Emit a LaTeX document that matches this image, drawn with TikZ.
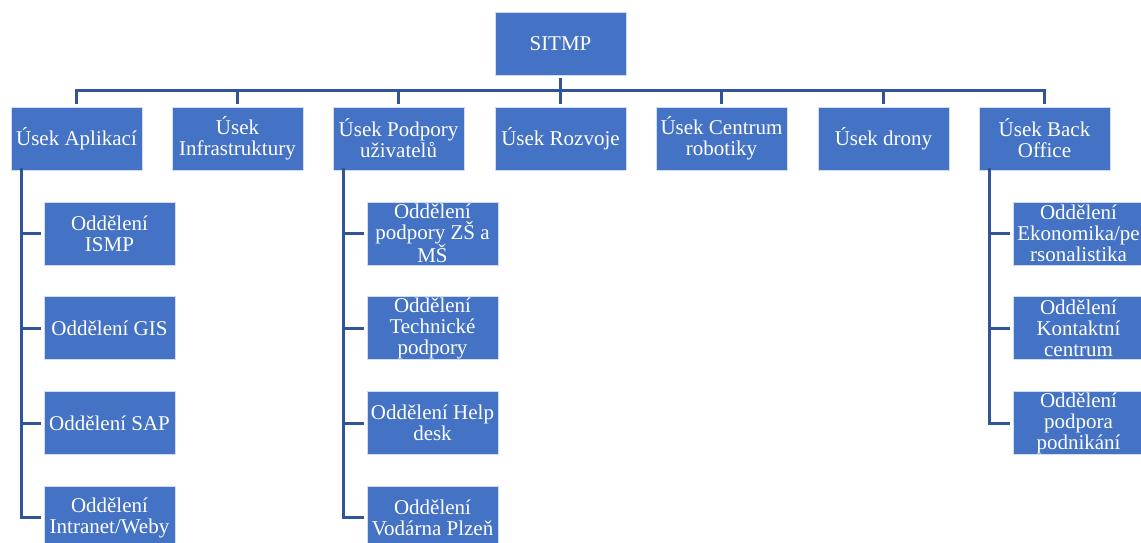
\documentclass[tikz,border=0pt]{standalone}
\usepackage{fontspec}
\setmainfont{Liberation Serif}
\definecolor{boxblue}{HTML}{4472C4}
\definecolor{lineblue}{HTML}{2F5597}
\begin{document}
\begin{tikzpicture}[x=1pt,y=-1pt,
  box/.style={rectangle,fill=boxblue,draw=white!75!boxblue,line width=0.8pt,
    minimum width=131pt,minimum height=63pt,inner sep=0pt,align=center,
    text=white,font=\fontsize{21}{21}\selectfont},
  conn/.style={draw=lineblue,line width=3pt}]
\useasboundingbox (0,0) rectangle (1141,543);
\clip (0,0) rectangle (1141,543);
% top
\node[box] (sitmp) at (560.5,44) {SITMP};
% sections
\node[box] (a1) at (76.5,138.5) {Úsek Aplikací};
\node[box] (a2) at (237.5,138.5) {Úsek\\Infrastruktury};
\node[box] (a3) at (398.5,138.5) {Úsek Podpory\\uživatelů};
\node[box] (a4) at (560.5,138.5) {Úsek Rozvoje};
\node[box] (a5) at (721.5,138.5) {Úsek Centrum\\robotiky};
\node[box] (a6) at (883.5,138.5) {Úsek drony};
\node[box] (a7) at (1044.5,138.5) {Úsek Back\\Office};
% departments
\node[box] (b1) at (109.5,233.5) {Oddělení\\ISMP};
\node[box] (b2) at (109.5,328) {Oddělení GIS};
\node[box] (b3) at (109.5,423) {Oddělení SAP};
\node[box] (b4) at (109.5,517.5) {Oddělení\\Intranet/Weby};
\node[box] (c1) at (432.5,233.5) {Oddělení\\podpory ZŠ a\\MŠ};
\node[box] (c2) at (432.5,328) {Oddělení\\Technické\\podpory};
\node[box] (c3) at (432.5,423) {Oddělení Help\\desk};
\node[box] (c4) at (432.5,517.5) {Oddělení\\Vodárna Plzeň};
\node[box] (d1) at (1078.5,233.5) {Oddělení\\Ekonomika/pe\\rsonalistika};
\node[box] (d2) at (1078.5,328) {Oddělení\\Kontaktní\\centrum};
\node[box] (d3) at (1078.5,423) {Oddělení\\podpora\\podnikání};
% connectors
\coordinate (bus) at (560.5,91);
\draw[conn,shorten <=2.5pt,shorten >=2.5pt] (sitmp.south) -- (a4.north);
\draw[conn,shorten <=2.5pt,shorten >=2.5pt] (a1.north) |- (bus) -| (a7.north);
\foreach \n in {a2,a3,a5,a6}{
  \draw[conn,shorten >=2.5pt] (bus -| \n) -- (\n.north);
}
\foreach \n in {b1,b2,b3,b4}{
  \draw[conn,shorten >=2.5pt] ([xshift=11pt,yshift=2.5pt]a1.south west) |- (\n.west);
}
\foreach \n in {c1,c2,c3,c4}{
  \draw[conn,shorten >=2.5pt] ([xshift=11pt,yshift=2.5pt]a3.south west) |- (\n.west);
}
\foreach \n in {d1,d2,d3}{
  \draw[conn,shorten >=2.5pt] ([xshift=11pt,yshift=2.5pt]a7.south west) |- (\n.west);
}
\end{tikzpicture}
\end{document}
